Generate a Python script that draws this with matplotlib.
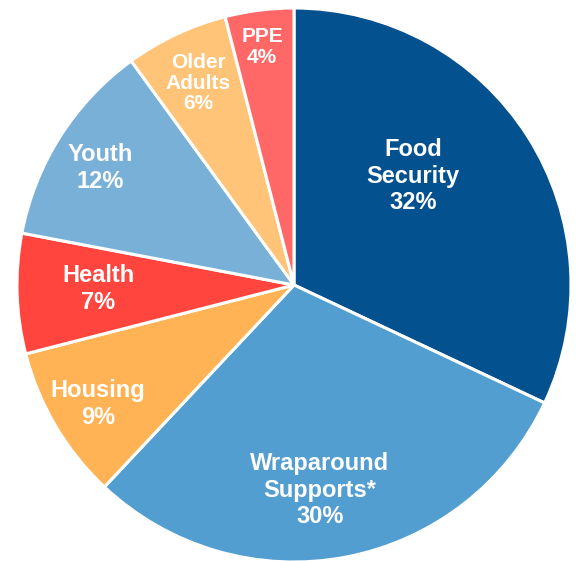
import matplotlib.pyplot as plt

# Share of funding by category (clockwise from 12 o'clock)
categories = ["Food\nSecurity", "Wraparound\nSupports*", "Housing", "Health",
              "Youth", "Older\nAdults", "PPE"]
shares = [32, 30, 9, 7, 12, 6, 4]

colors = ["#04518F", "#539ED0", "#FFB354", "#FF453D", "#78B0D8", "#FFC477", "#FF6866"]

# label centres in pixel coords (x right, y down) and font sizes
label_xy = [(413, 176), (320, 490), (98, 404), (98, 289), (100, 168), (198, 83), (262, 47)]
label_size = [17, 17, 17, 17, 17, 15, 15]
label_spacing = [1.19, 1.19, 1.19, 1.19, 1.19, 1.1, 1.1]

W, H = 576, 561
cx, cy, R = 294, 285, 277

fig = plt.figure(figsize=(W / 100, H / 100), dpi=100)
ax = fig.add_axes([0, 0, 1, 1])

# pixel y runs downwards, data y upwards
wedges, _ = ax.pie(shares, colors=colors, startangle=90, counterclock=False,
                   center=(cx, H - cy), radius=R, frame=True,
                   wedgeprops=dict(edgecolor="white", linewidth=2.2))
ax.set_xlim(0, W)
ax.set_ylim(0, H)
ax.set_aspect("equal")
ax.axis("off")

for i, (name, val) in enumerate(zip(categories, shares)):
    x, y = label_xy[i]
    ax.text(x, H - y, f"{name}\n{val}%", ha="center", va="center",
            color="white", fontweight="bold", fontsize=label_size[i],
            family="Liberation Sans", linespacing=label_spacing[i])

plt.savefig("out.png", dpi=100)
